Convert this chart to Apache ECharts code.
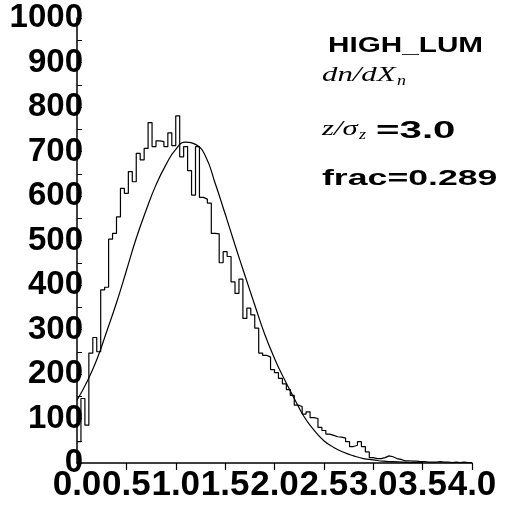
<!DOCTYPE html>
<html>
<head>
<meta charset="utf-8">
<script src="https://cdn.jsdelivr.net/npm/echarts@6/dist/echarts.min.js"></script>
<style>
  html, body { margin: 0; padding: 0; background: #fff; }
  #chart { width: 519px; height: 512px; }
</style>
</head>
<body>
<div id="chart"></div>
<script>
// histogram: 100 bins of width 0.04 starting at 0
const binStart = 0;
const binWidth = 0.04;
const binCounts = [
  48, 145, 85, 247, 282, 250, 389, 395, 503, 516,
  553, 617, 606, 655, 632, 696, 681, 707, 765, 711,
  724, 722, 711, 742, 713, 780, 688, 711, 657, 602,
  711, 597, 593, 584, 516, 515, 450, 475, 464, 407,
  381, 413, 325, 348, 333, 303, 247, 242, 238, 210,
  203, 190, 178, 165, 152, 130, 127, 110, 115, 102,
  100, 80, 73, 65, 62, 59, 58, 56, 48, 37,
  40, 48, 37, 25, 12, 10, 10, 12, 16, 14,
  10, 8, 5, 5, 4, 4, 3, 3, 2, 2,
  2, 3, 2, 2, 1, 2, 1, 2, 1, 1
];

// fitted curve
const fitX = [
  0.0, 0.1, 0.2, 0.3, 0.4, 0.5, 0.6, 0.7, 0.8, 0.9,
  1.0, 1.1, 1.2, 1.3, 1.4, 1.5, 1.6, 1.7, 1.8, 1.9,
  2.0, 2.1, 2.2, 2.3, 2.4, 2.5, 2.6, 2.7, 2.8, 2.9,
  3.0, 3.1, 3.2, 3.3, 3.4, 3.5
];
const fitY = [
  141, 182, 232, 295, 360, 432, 505, 568, 625, 670,
  705, 721, 716, 690, 628, 560, 490, 422, 355, 290,
  235, 188, 145, 104, 74, 50, 35, 24, 16, 10,
  7, 4, 3, 2, 1, 1
];

const xMin = 0, xMax = 4.0, xStep = 0.5;
const yMin = 0, yMax = 1000, yStep = 100;

const histData = binCounts.map((c, i) => [binStart + i * binWidth, c]);
histData.push([binStart + binCounts.length * binWidth, binCounts[binCounts.length - 1]]);
const fitData = fitX.map((x, i) => [x, fitY[i]]);

const boldFont = '"Liberation Sans", Arial, sans-serif';
const mathFont = '"Liberation Serif", "DejaVu Serif", serif';

const chart = echarts.init(document.getElementById('chart'), null, { renderer: 'canvas' });

chart.setOption({
  animation: false,
  backgroundColor: '#fff',
  grid: { left: 77, right: 47, top: 18, bottom: 49 },
  xAxis: {
    type: 'value',
    min: xMin,
    max: xMax,
    interval: xStep,
    axisLine: { lineStyle: { color: '#000', width: 1.5 } },
    axisTick: { inside: false, length: 7, lineStyle: { color: '#000', width: 1.2 } },
    splitLine: { show: false },
    axisLabel: {
      color: '#000',
      fontFamily: boldFont,
      fontWeight: 'bold',
      fontSize: 35,
      margin: 5,
      showMinLabel: true,
      showMaxLabel: true,
      hideOverlap: false,
      formatter: v => v.toFixed(1)
    }
  },
  yAxis: {
    type: 'value',
    min: yMin,
    max: yMax,
    interval: yStep,
    axisLine: { show: true, lineStyle: { color: '#000', width: 1.5 } },
    axisTick: { show: true, inside: true, length: 5, lineStyle: { color: '#000' } },
    minorTick: { show: true, splitNumber: 2, length: 5, lineStyle: { color: '#000' } },
    splitLine: { show: false },
    axisLabel: {
      color: '#000',
      fontFamily: boldFont,
      fontWeight: 'bold',
      fontSize: 33,
      margin: -6,
      padding: [8, 0, 0, 0],
      showMinLabel: true,
      showMaxLabel: true,
      formatter: v => String(v)
    }
  },
  series: [
    {
      name: 'hist',
      type: 'line',
      step: 'end',
      data: histData,
      symbol: 'none',
      lineStyle: { color: '#000', width: 1.2 },
      z: 2
    },
    {
      name: 'fit',
      type: 'line',
      smooth: true,
      data: fitData,
      symbol: 'none',
      lineStyle: { color: '#000', width: 1.2 },
      z: 3
    }
  ],
  graphic: [
    {
      type: 'text', x: 328, y: 35, scaleX: 1.35,
      style: { text: 'HIGH_LUM', fontFamily: boldFont, fontWeight: 'bold', fontSize: 22, fill: '#000' }
    },
    {
      type: 'text', x: 322, y: 64, scaleX: 1.4,
      style: { text: 'dn/dX', fontFamily: mathFont, fontStyle: 'italic', fontSize: 22, fill: '#000' }
    },
    {
      type: 'text', x: 397, y: 74, scaleX: 1.2,
      style: { text: 'n', fontFamily: mathFont, fontStyle: 'italic', fontSize: 15, fill: '#000' }
    },
    {
      type: 'text', x: 322, y: 118, scaleX: 1.4,
      style: { text: 'z/σ', fontFamily: mathFont, fontStyle: 'italic', fontSize: 22, fill: '#000' }
    },
    {
      type: 'text', x: 359, y: 128, scaleX: 1.2,
      style: { text: 'z', fontFamily: mathFont, fontStyle: 'italic', fontSize: 15, fill: '#000' }
    },
    {
      type: 'text', x: 376, y: 120, scaleX: 1.75,
      style: { text: '=3.0', fontFamily: boldFont, fontWeight: 'bold', fontSize: 23, fill: '#000' }
    },
    {
      type: 'text', x: 322, y: 168, scaleX: 1.62,
      style: { text: 'frac=0.289', fontFamily: boldFont, fontWeight: 'bold', fontSize: 22, fill: '#000' }
    }
  ]
});
</script>
</body>
</html>
